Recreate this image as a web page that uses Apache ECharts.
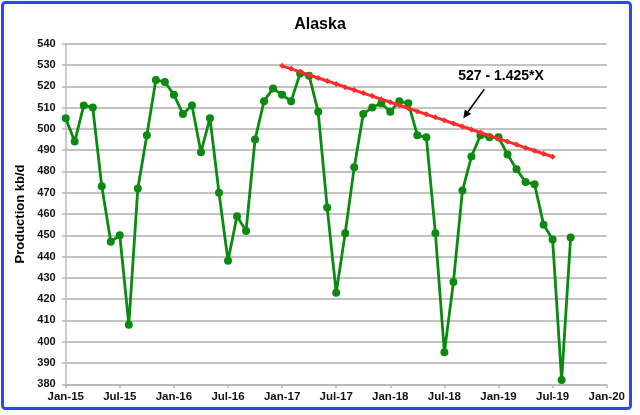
<!DOCTYPE html>
<html>
<head>
<meta charset="utf-8">
<script src="https://cdn.jsdelivr.net/npm/echarts@6/dist/echarts.min.js"></script>
<style>html,body{margin:0;padding:0;background:#fff}#c{width:640px;height:415px}</style>
</head>
<body>
<div id="c"></div>
<script>
// Monthly Alaska production, Jan-15 .. Sep-19 (kb/d)
const alaska = [505,494,511,510,473,447,450,408,472,497,523,522,
                516,507,511,489,505,470,438,459,452,495,513,519,
                516,513,526,525,508,463,423,451,482,507,510,512,
                508,513,512,497,496,451,395,428,471,487,497,496,
                496,488,481,475,474,455,448,382,449];
// Trend line values, Jan-17 .. Jul-19
const trendStart = 24;
const trend = [529.6,528.2,526.8,525.3,523.9,522.5,521.1,519.6,518.2,516.8,
               515.4,513.9,512.5,511.1,509.7,508.2,506.8,505.4,504.0,502.5,
               501.1,499.7,498.3,496.8,495.4,494.0,492.6,491.1,489.7,488.3,486.9];
const xTickLabels = ['Jan-15','Jul-15','Jan-16','Jul-16','Jan-17','Jul-17','Jan-18','Jul-18','Jan-19','Jul-19','Jan-20'];
const titleText = 'Alaska';
const yName = 'Production kb/d';
const annotation = '527 - 1.425*X';

const FONT = '"Liberation Sans", Arial, sans-serif';
const chart = echarts.init(document.getElementById('c'), null, {renderer:'canvas'});
const prodData = alaska.map((v,i)=>[i,v]);
const trendData = trend.map((v,i)=>[trendStart+i,v]);

chart.setOption({
  backgroundColor:'#ffffff',
  animation:false,
  title:{text:titleText,left:'center',top:12,textStyle:{fontFamily:FONT,fontWeight:'bold',fontSize:16,color:'#000'}},
  grid:{left:65.7,right:33.3,top:43.7,bottom:30.7,containLabel:false},
  xAxis:{type:'value',min:0,max:60,interval:6,
    axisLine:{show:true,lineStyle:{color:'#b8b8b8',width:1.5}},
    axisTick:{show:true,length:4,lineStyle:{color:'#b8b8b8',width:1.5}},
    splitLine:{show:false},
    axisLabel:{margin:7,fontFamily:FONT,fontWeight:'bold',fontSize:11.5,color:'#111',
      formatter:v=>xTickLabels[Math.round(v/6)]||''}},
  yAxis:{type:'value',min:380,max:540,interval:10,
    name:yName,nameLocation:'middle',nameGap:31,
    nameTextStyle:{fontFamily:FONT,fontWeight:'bold',fontSize:13,color:'#000'},
    axisLine:{show:true,lineStyle:{color:'#b8b8b8',width:1.5}},
    axisTick:{show:true,length:4,lineStyle:{color:'#b8b8b8',width:1.5}},
    splitLine:{show:true,lineStyle:{color:'#c2c2c2',width:2}},
    axisLabel:{margin:10,fontFamily:FONT,fontWeight:'bold',fontSize:11,color:'#111'}},
  series:[
    {type:'line',data:prodData,symbol:'circle',symbolSize:8,
     itemStyle:{color:'#0b8a12'},lineStyle:{color:'#0b8a12',width:2.8},z:3},
    {type:'line',data:trendData,symbol:'diamond',symbolSize:6,
     itemStyle:{color:'#ff2a2a'},lineStyle:{color:'#ff2a2a',width:3},z:4}
  ],
  graphic:[
    {type:'rect',shape:{x:2.5,y:2.5,width:628,height:406,r:3},
     style:{fill:null,stroke:'#2a48f0',lineWidth:3},z:100},
    {type:'text',x:501,y:76,style:{text:annotation,x:0,y:0,textAlign:'center',textVerticalAlign:'middle',
      font:'bold 14px "Liberation Sans", Arial, sans-serif',fill:'#000'},z:50},
    {type:'line',shape:{x1:484.3,y1:89.3,x2:468.0,y2:111.8},style:{stroke:'#000',lineWidth:1.5},z:50},
    {type:'polygon',shape:{points:[[463.3,118.3],[471.2,114.1],[464.8,109.5]]},style:{fill:'#000'},z:50}
  ]
});
</script>
</body>
</html>
